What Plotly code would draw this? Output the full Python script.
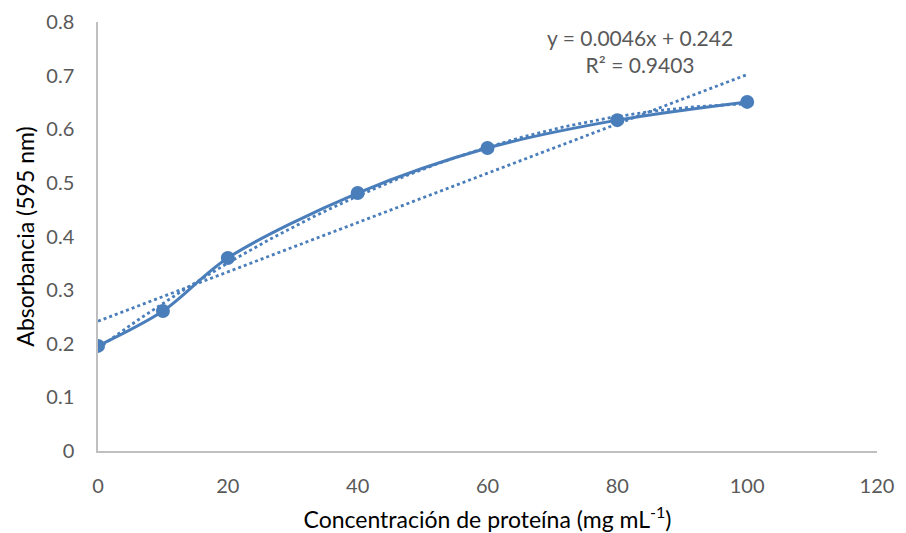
import numpy as np
import plotly.graph_objects as go

conc = [0, 10, 20, 40, 60, 80, 100]
absorb = [0.196, 0.261, 0.360, 0.481, 0.565, 0.617, 0.651]
lin_slope = 0.0046
lin_icpt = 0.242
eq_text = "y = 0.0046x + 0.242"
r2_text = "R² = 0.9403"
x_ticks = [0, 20, 40, 60, 80, 100, 120]
y_ticks = [0, 0.1, 0.2, 0.3, 0.4, 0.5, 0.6, 0.7, 0.8]

color = "#4A7EBB"
font = "Lato, 'Open Sans', sans-serif"

xs = np.linspace(0, 100, 200)
lin_y = lin_slope * xs + lin_icpt
coef = np.polyfit(conc, absorb, 2)
poly_y = np.polyval(coef, xs)

fig = go.Figure()
fig.add_trace(go.Scatter(x=xs, y=lin_y, mode="lines",
                         line=dict(color=color, width=2.8, dash="dot"), hoverinfo="skip"))
fig.add_trace(go.Scatter(x=xs, y=poly_y, mode="lines",
                         line=dict(color=color, width=2.8, dash="dot"), hoverinfo="skip"))
fig.add_trace(go.Scatter(x=conc, y=absorb, mode="lines+markers",
                         line=dict(color=color, width=3, shape="spline", smoothing=0.9),
                         marker=dict(color=color, size=14)))

fig.add_annotation(x=83.5, y=0.694, xref="x", yref="y", text=eq_text + "<br>" + r2_text,
                   showarrow=False, font=dict(family=font, size=21, color="#595959"),
                   align="center", yanchor="bottom", xanchor="center")

fig.update_layout(
    width=906, height=533, showlegend=False,
    paper_bgcolor="white", plot_bgcolor="white",
    margin=dict(l=98, r=29, t=22, b=82),
    font=dict(family=font, color="#595959", size=20),
)
fig.update_xaxes(range=[0, 120], tickvals=x_ticks, showgrid=False, zeroline=False,
                 showline=True, linecolor="#BFBFBF", linewidth=1.5, ticks="",
                 ticklabelstandoff=16, automargin=False,
                 tickfont=dict(size=20, color="#595959"),
                 title=dict(text="Concentración de proteína (mg mL<sup>-1</sup>)",
                            font=dict(size=23, color="#000000"), standoff=18))
fig.update_yaxes(range=[0, 0.8], tickvals=y_ticks, ticktext=[f"{v:g}" for v in y_ticks],
                 showgrid=False, zeroline=False,
                 showline=True, linecolor="#BFBFBF", linewidth=1.5, ticks="",
                 ticklabelstandoff=18, automargin=False,
                 tickfont=dict(size=20, color="#595959"),
                 title=dict(text="Absorbancia (595 nm)", font=dict(size=23, color="#000000"),
                            standoff=5))
fig.write_html("out.html")
